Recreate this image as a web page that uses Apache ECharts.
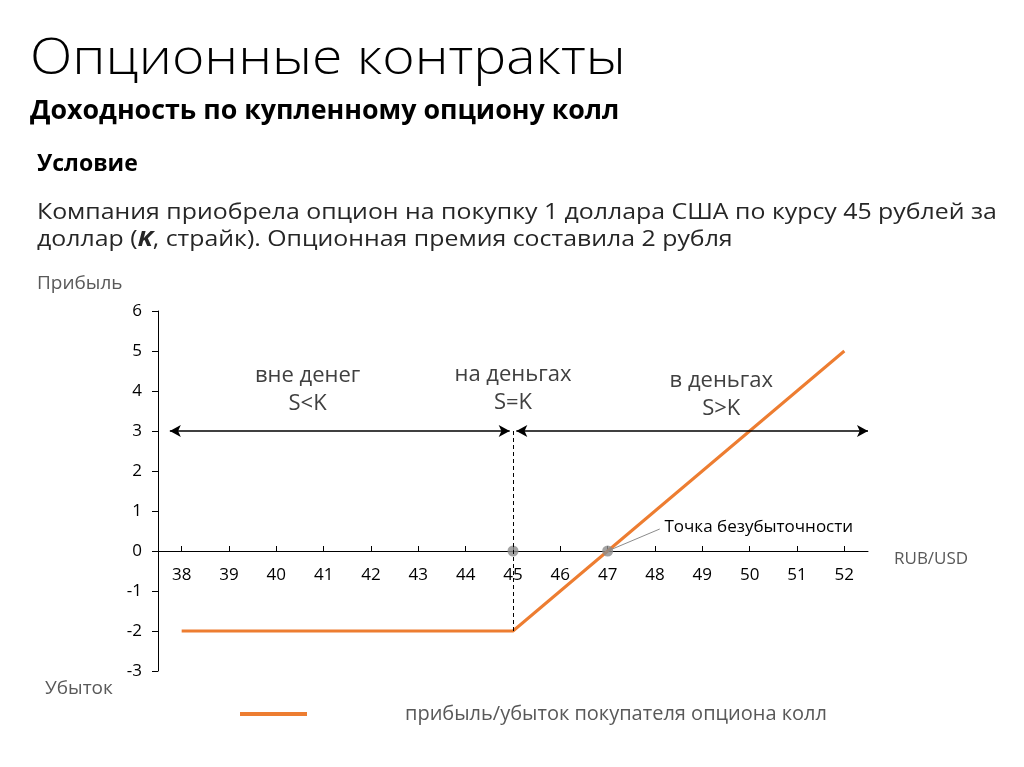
<!DOCTYPE html>
<html>
<head>
<meta charset="utf-8">
<script src="https://cdn.jsdelivr.net/npm/echarts@6/dist/echarts.min.js"></script>
<style>
html,body{margin:0;padding:0;background:#fff;}
#chart{width:1024px;height:767px;}
</style>
</head>
<body>
<div id="chart"></div>
<script>
// ---- data ----
var spotPrices = [38, 39, 40, 41, 42, 43, 44, 45, 46, 47, 48, 49, 50, 51, 52];
var profitLoss = [-2, -2, -2, -2, -2, -2, -2, -2, -1, 0, 1, 2, 3, 4, 5];
var keyPointsX = [45, 47];
var keyPointsY = [0, 0];
var strike = 45;
var breakEven = 47;
var yMin = -3, yMax = 6, yStep = 1;
var seriesName = 'прибыль/убыток покупателя опциона колл';
var zoneLabels = ['вне денег\nS<K', 'на деньгах\nS=K', 'в деньгах\nS>K'];
var zoneLabelX = [40.66, 45, 49.4];
var zoneLabelY = [4.03, 4.05, 3.9];
var arrowY = 3;
var breakEvenLabel = 'Точка безубыточности';

var FONT = '"Open Sans", "Noto Sans", sans-serif';

var chart = echarts.init(document.getElementById('chart'), null, {renderer: 'canvas'});

var lineData = spotPrices.map(function (x, i) { return [x, profitLoss[i]]; });
var dotData = keyPointsX.map(function (x, i) { return [x, keyPointsY[i]]; });

var gridTop = 311, gridBottom = 96;
var gridHeight = 767 - gridTop - gridBottom;
var xAxisOffset = -((0 - yMin) / (yMax - yMin)) * gridHeight;

var option = {
  animation: false,
  backgroundColor: '#ffffff',
  grid: {left: 158, right: 156, top: gridTop, bottom: gridBottom, containLabel: false},
  legend: {
    data: [seriesName],
    left: 235,
    top: 699,
    itemWidth: 67,
    itemHeight: 4,
    icon: 'rect',
    textStyle: {fontFamily: FONT, fontSize: 20, color: '#595959', padding: [0, 0, 0, 93]}
  },
  xAxis: {
    type: 'value',
    min: 37.5,
    max: 52.5,
    offset: xAxisOffset,
    axisLine: {show: true, onZero: false, lineStyle: {color: '#000', width: 1}},
    axisTick: {show: true, inside: true, length: 5, customValues: spotPrices, lineStyle: {color: '#000'}},
    axisLabel: {customValues: spotPrices, color: '#000', fontFamily: FONT, fontSize: 17, margin: 16},
    splitLine: {show: false},
    name: 'RUB/USD',
    nameLocation: 'end',
    nameGap: 26,
    nameTextStyle: {color: '#595959', fontFamily: FONT, fontSize: 17, verticalAlign: 'top'}
  },
  yAxis: {
    type: 'value',
    min: yMin,
    max: yMax,
    interval: yStep,
    axisLine: {show: true, lineStyle: {color: '#000', width: 1}},
    axisTick: {show: true, inside: false, length: 6, lineStyle: {color: '#000'}},
    axisLabel: {color: '#000', fontFamily: FONT, fontSize: 17, margin: 16},
    splitLine: {show: false}
  },
  series: [
    {
      name: 'annotations',
      type: 'line',
      data: [],
      silent: true,
      markLine: {
        silent: true,
        animation: false,
        symbol: ['arrow', 'arrow'],
        symbolSize: [9, 11],
        label: {show: false},
        lineStyle: {color: '#000', width: 1.5, type: 'solid'},
        data: [
          [{coord: [37.75, arrowY]}, {coord: [44.93, arrowY]}],
          [{coord: [45.07, arrowY]}, {coord: [52.5, arrowY]}],
          [{coord: [strike, arrowY], symbol: 'none', lineStyle: {type: [4, 3], width: 1, color: '#000'}},
           {coord: [strike, profitLoss[spotPrices.indexOf(strike)]], symbol: 'none'}],
          [{coord: [breakEven, 0], symbol: 'none', lineStyle: {type: 'solid', width: 1, color: '#8c8c8c'}},
           {coord: [48.1, 0.55], symbol: 'none'}]
        ]
      },
      markPoint: {
        silent: true,
        animation: false,
        symbol: 'circle',
        symbolSize: 0,
        data: zoneLabels.map(function (t, i) {
          return {
            name: t,
            coord: [zoneLabelX[i], zoneLabelY[i]],
            label: {
              show: true, position: 'inside', formatter: t,
              color: '#404040', fontFamily: FONT, fontSize: 22, lineHeight: 28
            }
          };
        }).concat([{
          name: breakEvenLabel,
          coord: [48.2, 0.6],
          label: {
            show: true, position: 'right', distance: 0, formatter: breakEvenLabel,
            color: '#000', fontFamily: FONT, fontSize: 17
          }
        }])
      }
    },
    {
      name: seriesName,
      type: 'line',
      data: lineData,
      symbol: 'none',
      lineStyle: {color: '#ED7D31', width: 3},
      itemStyle: {color: '#ED7D31'},
      z: 3
    },
    {
      name: 'points',
      type: 'scatter',
      data: dotData,
      symbolSize: 11,
      itemStyle: {color: '#8c8c8c'},
      z: 4
    }
  ],
  graphic: [
    {type: 'text', x: 30, y: 36, scaleX: 1.13, style: {text: 'Опционные контракты', font: '300 49px ' + FONT, fill: '#000'}},
    {type: 'text', x: 30, y: 99, scaleX: 1.03, style: {text: 'Доходность по купленному опциону колл', font: 'bold 26px ' + FONT, fill: '#000'}},
    {type: 'text', x: 37, y: 153, style: {text: 'Условие', font: 'bold 23px ' + FONT, fill: '#000'}},
    {type: 'text', x: 37, y: 202, scaleX: 1.13, style: {text: 'Компания приобрела опцион на покупку 1 доллара США по курсу 45 рублей за', font: '22px ' + FONT, fill: '#262626'}},
    {type: 'text', x: 37, y: 229, scaleX: 1.13, style: {
      text: 'доллар ({k|K}, страйк). Опционная премия составила 2 рубля',
      font: '22px ' + FONT, fill: '#262626',
      rich: {k: {fontFamily: FONT, fontSize: 22, fontWeight: 'bold', fontStyle: 'italic', fill: '#262626'}}
    }},
    {type: 'text', x: 37, y: 274, style: {text: 'Прибыль', font: '19px ' + FONT, fill: '#595959'}},
    {type: 'text', x: 45, y: 679, style: {text: 'Убыток', font: '19px ' + FONT, fill: '#595959'}}
  ]
};

chart.setOption(option);
</script>
</body>
</html>
